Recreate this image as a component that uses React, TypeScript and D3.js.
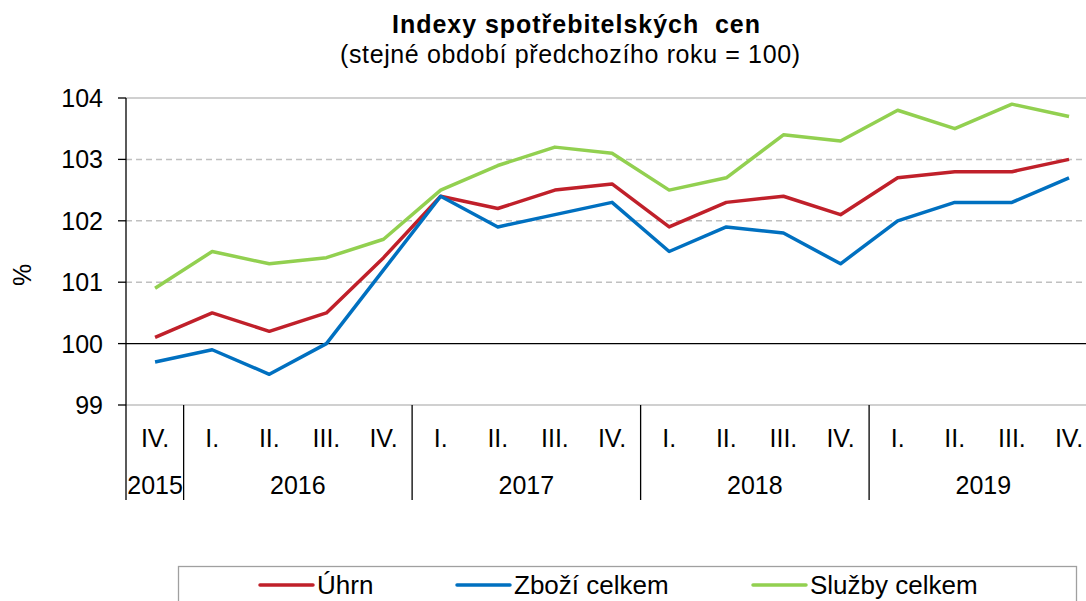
import * as d3 from 'd3';

const quarters = ['IV.', 'I.', 'II.', 'III.', 'IV.', 'I.', 'II.', 'III.', 'IV.', 'I.', 'II.', 'III.', 'IV.', 'I.', 'II.', 'III.', 'IV.'];
const years = [
  { label: '2015', span: 1 },
  { label: '2016', span: 4 },
  { label: '2017', span: 4 },
  { label: '2018', span: 4 },
  { label: '2019', span: 4 },
];
const uhrn = [100.1, 100.5, 100.2, 100.5, 101.4, 102.4, 102.2, 102.5, 102.6, 101.9, 102.3, 102.4, 102.1, 102.7, 102.8, 102.8, 103.0];
const zbozi = [99.7, 99.9, 99.5, 100.0, 101.2, 102.4, 101.9, 102.1, 102.3, 101.5, 101.9, 101.8, 101.3, 102.0, 102.3, 102.3, 102.7];
const sluzby = [100.9, 101.5, 101.3, 101.4, 101.7, 102.5, 102.9, 103.2, 103.1, 102.5, 102.7, 103.4, 103.3, 103.8, 103.5, 103.9, 103.7];
const yTicks = [99, 100, 101, 102, 103, 104];

const series = [
  { name: 'Úhrn', values: uhrn, color: '#C0202A' },
  { name: 'Zboží celkem', values: zbozi, color: '#0070C0' },
  { name: 'Služby celkem', values: sluzby, color: '#92D050' },
];

export default function App() {
  const width = 1086;
  const height = 601;
  const font = 'Liberation Sans, Arial, sans-serif';
  const fs = 25;

  const idx = quarters.map((_, i) => i);
  const x = d3.scaleBand<number>().domain(idx).range([126.5, 1097.6]);
  const y = d3.scaleLinear().domain([99, 104]).range([405, 98]);
  const cx = (i: number) => (x(i) ?? 0) + x.bandwidth() / 2;

  const line = d3.line<number>()
    .x((_, i) => cx(i))
    .y(d => y(d));

  // year groups
  let acc = 0;
  const yearPos = years.map(yr => {
    const start = acc;
    acc += yr.span;
    return { ...yr, x0: x(start) ?? 0, x1: (x(acc - 1) ?? 0) + x.bandwidth() };
  });

  const legendX = [260, 457, 753];

  return (
    <svg width={width} height={height} style={{ position: 'absolute', left: 0, top: 0, background: '#fff' }}>
      <text x={576} y={33} textAnchor="middle" fontFamily={font} fontWeight="bold" fontSize={fs}
        textLength={368} lengthAdjust="spacing" style={{ whiteSpace: 'pre' }}>
        Indexy spotřebitelských  cen
      </text>
      <text x={570} y={63} textAnchor="middle" fontFamily={font} fontSize={fs}
        textLength={460} lengthAdjust="spacing">
        (stejné období předchozího roku = 100)
      </text>

      {/* gridlines */}
      {yTicks.filter(t => t > 100).map(t => (
        <line key={t} x1={126} x2={width} y1={y(t)} y2={y(t)}
          stroke="#C0C0C0" strokeWidth={1.5} strokeDasharray={t === 104 ? undefined : '6,4'} />
      ))}
      <line x1={126} x2={width} y1={y(99)} y2={y(99)} stroke="#C0C0C0" strokeWidth={1.5} />
      <line x1={126} x2={width} y1={y(100)} y2={y(100)} stroke="#000" strokeWidth={1.3} />

      {/* y axis */}
      <line x1={126} x2={126} y1={y(104)} y2={500} stroke="#000" strokeWidth={1.3} />
      {yTicks.map(t => (
        <g key={t}>
          <line x1={118} x2={126} y1={y(t)} y2={y(t)} stroke="#000" strokeWidth={1.3} />
          <text x={103} y={y(t) + 9} textAnchor="end" fontFamily={font} fontSize={fs}>{t}</text>
        </g>
      ))}
      <text transform="translate(31,275) rotate(-90)" textAnchor="middle" fontFamily={font} fontSize={fs}>%</text>

      {/* category axis */}
      {quarters.map((q, i) => (
        <text key={i} x={cx(i)} y={447} textAnchor="middle" fontFamily={font} fontSize={fs}>{q}</text>
      ))}
      {yearPos.map(yr => (
        <g key={yr.label}>
          <line x1={yr.x1} x2={yr.x1} y1={y(99)} y2={500} stroke="#000" strokeWidth={1.3} />
          <text x={(yr.x0 + yr.x1) / 2} y={494} textAnchor="middle" fontFamily={font} fontSize={fs}>{yr.label}</text>
        </g>
      ))}

      {/* series */}
      {series.map(s => (
        <path key={s.name} d={line(s.values) ?? ''} fill="none" stroke={s.color} strokeWidth={3.5} strokeLinejoin="round" />
      ))}

      {/* legend */}
      <rect x={178.5} y={566.5} width={898} height={50} fill="#fff" stroke="#A0A0A0" strokeWidth={1.3} />
      {series.map((s, i) => (
        <g key={s.name}>
          <line x1={legendX[i]} x2={legendX[i] + 53} y1={585} y2={585} stroke={s.color} strokeWidth={3.5} strokeLinecap="round" />
          <text x={legendX[i] + 57} y={594} fontFamily={font} fontSize={26}>{s.name}</text>
        </g>
      ))}
    </svg>
  );
}
